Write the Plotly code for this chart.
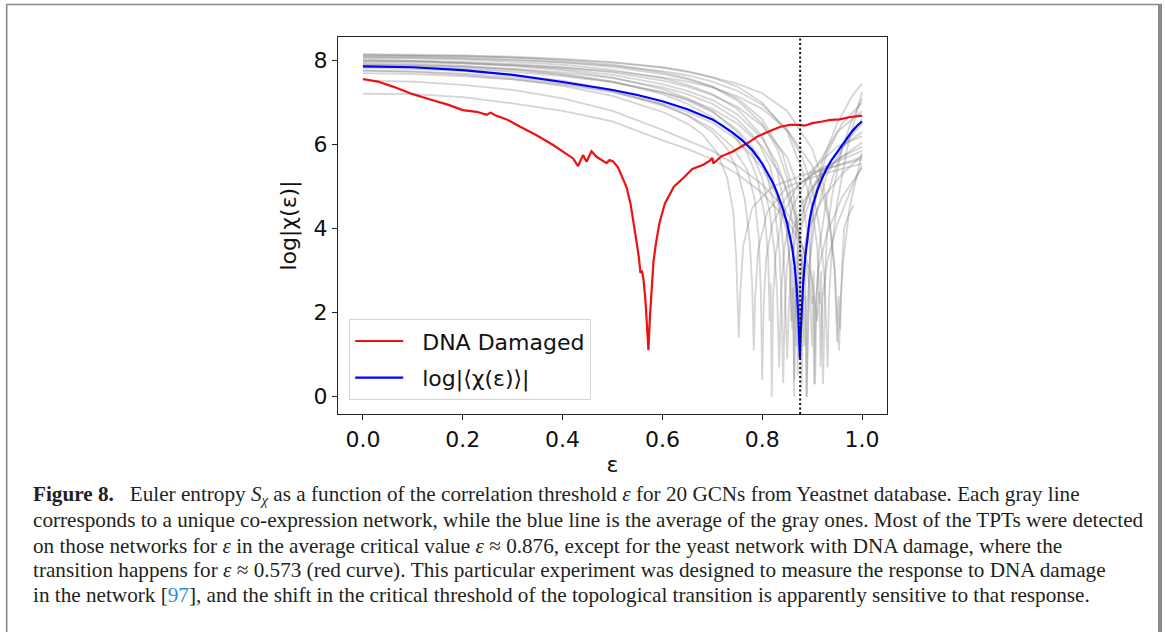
import plotly.graph_objects as go

# ---------------- data ----------------
EPS_CRIT = 0.876

red_eps = [0.0, 0.03, 0.06, 0.1, 0.133, 0.17, 0.2, 0.215, 0.228, 0.248, 0.256, 0.265, 0.288,
           0.314, 0.347, 0.381, 0.391, 0.421, 0.431, 0.436, 0.441, 0.448, 0.458, 0.468, 0.478,
           0.488, 0.494, 0.501, 0.511, 0.518, 0.528, 0.536, 0.542, 0.548, 0.553, 0.556, 0.559,
           0.562, 0.566, 0.569, 0.572, 0.575, 0.578, 0.582, 0.587, 0.594, 0.605, 0.623, 0.645,
           0.66, 0.682, 0.695, 0.70, 0.702, 0.718, 0.74, 0.77, 0.79, 0.813, 0.835, 0.855, 0.872,
           0.885, 0.9, 0.92, 0.937, 0.955, 0.974, 1.0]
red_log = [7.56, 7.5, 7.38, 7.2, 7.08, 6.95, 6.82, 6.8, 6.78, 6.71, 6.76, 6.7, 6.6,
           6.43, 6.23, 5.99, 5.91, 5.67, 5.49, 5.62, 5.75, 5.59, 5.84, 5.71, 5.63,
           5.56, 5.63, 5.6, 5.46, 5.27, 4.99, 4.6, 4.2, 3.7, 3.3, 2.95, 3.0,
           2.8, 2.3, 1.7, 1.11, 1.9, 2.6, 3.2, 3.65, 4.13, 4.6, 5.0, 5.24,
           5.42, 5.52, 5.62, 5.68, 5.55, 5.72, 5.83, 6.03, 6.19, 6.31, 6.42, 6.47, 6.47,
           6.45, 6.51, 6.55, 6.59, 6.6, 6.65, 6.69]

blue_eps = [0.0, 0.1, 0.2, 0.3, 0.4, 0.5, 0.55, 0.6, 0.65, 0.7, 0.72, 0.74, 0.76, 0.78, 0.8,
            0.81, 0.82, 0.83, 0.84, 0.85, 0.855, 0.86, 0.865, 0.869, 0.872, 0.874, 0.8755,
            0.877, 0.879, 0.882, 0.886, 0.89, 0.895, 0.9, 0.91, 0.92, 0.93, 0.94, 0.95, 0.96,
            0.97, 0.98, 0.99, 1.0]
blue_log = [7.86, 7.84, 7.77, 7.66, 7.49, 7.30, 7.18, 7.03, 6.84, 6.60, 6.45, 6.29, 6.10, 5.87, 5.55,
            5.35, 5.12, 4.85, 4.52, 4.12, 3.85, 3.55, 3.1, 2.6, 2.0, 1.4, 0.92,
            1.5, 2.1, 2.7, 3.3, 3.78, 4.2, 4.5, 4.9, 5.2, 5.45, 5.65, 5.82, 6.0,
            6.15, 6.32, 6.45, 6.55]

# twenty gray networks: (epsilon, log|chi|) pairs
gray_01 = [(0, 8.15), (0.1, 8.14), (0.2, 8.12), (0.3, 8.09), (0.4, 8.04), (0.5, 7.96), (0.6, 7.84), (0.65, 7.75), (0.7, 7.6), (0.75, 7.38), (0.8, 7.0), (0.85, 6.3), (0.88, 5.4), (0.9, 4.5), (0.91, 3.6), (0.915, 2.2), (0.918, 3.0), (0.922, 0.3), (0.926, 2.9), (0.93, 3.9), (0.94, 4.8), (0.96, 5.9), (0.98, 6.6), (1.0, 7.1)]
gray_02 = [(0, 8.12), (0.1, 8.11), (0.2, 8.1), (0.3, 8.07), (0.4, 8.02), (0.5, 7.95), (0.6, 7.83), (0.65, 7.73), (0.7, 7.6), (0.75, 7.45), (0.8, 7.22), (0.85, 6.8), (0.9, 5.9), (0.92, 5.2), (0.935, 4.2), (0.945, 3.0), (0.95, 1.3), (0.953, 2.4), (0.956, 1.6), (0.96, 3.1), (0.964, 4.0), (0.972, 4.3), (0.983, 4.56)]
gray_03 = [(0, 8.10), (0.1, 8.09), (0.2, 8.06), (0.3, 8.02), (0.4, 7.95), (0.5, 7.85), (0.6, 7.68), (0.65, 7.55), (0.7, 7.38), (0.75, 7.1), (0.8, 6.6), (0.84, 5.8), (0.86, 5.0), (0.87, 4.2), (0.88, 3.0), (0.884, 1.2), (0.887, 2.4), (0.889, 0.0), (0.892, 2.5), (0.9, 4.2), (0.92, 5.6), (0.95, 6.5), (0.98, 7.15), (1.0, 7.45)]
gray_04 = [(0, 8.06), (0.1, 8.05), (0.2, 8.02), (0.3, 7.97), (0.4, 7.9), (0.5, 7.78), (0.6, 7.58), (0.65, 7.42), (0.7, 7.2), (0.75, 6.85), (0.8, 6.2), (0.83, 5.4), (0.845, 4.5), (0.855, 3.2), (0.858, 1.8), (0.861, 2.6), (0.864, 0.4), (0.867, 2.9), (0.875, 4.0), (0.9, 5.3), (0.95, 6.3), (1.0, 6.8)]
gray_05 = [(0, 8.02), (0.1, 8.0), (0.2, 7.97), (0.3, 7.92), (0.4, 7.84), (0.5, 7.72), (0.6, 7.52), (0.65, 7.38), (0.7, 7.18), (0.75, 6.9), (0.8, 6.45), (0.85, 5.7), (0.88, 4.7), (0.895, 3.6), (0.9, 2.2), (0.903, 3.0), (0.906, 0.3), (0.909, 2.4), (0.914, 3.5), (0.93, 4.8), (0.96, 5.9), (1.0, 6.6)]
gray_06 = [(0, 8.0), (0.1, 7.98), (0.2, 7.94), (0.3, 7.87), (0.4, 7.77), (0.5, 7.6), (0.6, 7.32), (0.65, 7.1), (0.7, 6.8), (0.75, 6.3), (0.78, 5.8), (0.8, 5.2), (0.815, 4.4), (0.825, 3.4), (0.83, 2.4), (0.834, 0.7), (0.838, 2.5), (0.845, 3.6), (0.86, 4.5), (0.9, 5.4), (0.95, 5.95), (1.0, 6.2)]
gray_07 = [(0, 7.94), (0.1, 7.92), (0.2, 7.87), (0.3, 7.8), (0.4, 7.68), (0.5, 7.5), (0.6, 7.2), (0.65, 6.97), (0.7, 6.65), (0.74, 6.25), (0.77, 5.8), (0.79, 5.2), (0.805, 4.3), (0.812, 3.3), (0.815, 1.8), (0.817, 2.7), (0.819, 0.0), (0.822, 2.4), (0.827, 3.4), (0.84, 4.3), (0.87, 5.0), (0.92, 5.45), (1.0, 5.85)]
gray_08 = [(0, 7.9), (0.1, 7.88), (0.2, 7.84), (0.3, 7.77), (0.4, 7.66), (0.5, 7.5), (0.6, 7.24), (0.65, 7.05), (0.7, 6.78), (0.75, 6.35), (0.79, 5.8), (0.81, 5.25), (0.825, 4.5), (0.835, 3.4), (0.839, 2.2), (0.842, 0.32), (0.845, 2.0), (0.849, 3.0), (0.86, 3.9), (0.88, 4.6), (0.93, 5.45), (1.0, 6.05)]
gray_09 = [(0, 7.82), (0.1, 7.8), (0.2, 7.75), (0.3, 7.66), (0.4, 7.52), (0.5, 7.3), (0.6, 6.95), (0.65, 6.7), (0.7, 6.3), (0.73, 5.9), (0.75, 5.4), (0.765, 4.7), (0.775, 3.7), (0.78, 2.6), (0.783, 1.1), (0.786, 2.4), (0.792, 3.5), (0.81, 4.4), (0.85, 5.0), (0.92, 5.3), (1.0, 5.55)]
gray_10 = [(0, 7.76), (0.1, 7.73), (0.2, 7.66), (0.3, 7.56), (0.4, 7.4), (0.5, 7.16), (0.6, 6.78), (0.65, 6.5), (0.68, 6.25), (0.71, 5.8), (0.73, 5.2), (0.742, 4.4), (0.748, 3.3), (0.751, 2.2), (0.753, 1.4), (0.756, 2.5), (0.762, 3.6), (0.78, 4.5), (0.82, 5.0), (0.9, 5.35), (1.0, 5.65)]
gray_11 = [(0, 7.7), (0.1, 7.68), (0.2, 7.63), (0.3, 7.55), (0.4, 7.43), (0.5, 7.25), (0.6, 6.97), (0.65, 6.78), (0.7, 6.52), (0.75, 6.12), (0.8, 5.45), (0.83, 4.75), (0.85, 3.9), (0.857, 3.0), (0.86, 1.6), (0.862, 3.1), (0.864, 0.0), (0.866, 2.8), (0.869, 1.2), (0.872, 3.2), (0.88, 4.1), (0.91, 5.2), (0.96, 5.95), (1.0, 6.3)]
gray_12 = [(0, 7.52), (0.1, 7.5), (0.2, 7.42), (0.3, 7.3), (0.4, 7.1), (0.5, 6.8), (0.6, 6.35), (0.65, 6.1), (0.7, 5.85), (0.75, 5.5), (0.8, 5.05), (0.84, 4.55), (0.87, 4.0), (0.885, 3.4), (0.895, 2.6), (0.9, 1.2), (0.902, 2.4), (0.904, 0.3), (0.907, 2.1), (0.912, 3.0), (0.93, 3.9), (0.96, 4.75), (1.0, 5.45)]
gray_13 = [(0, 7.21), (0.1, 7.2), (0.2, 7.13), (0.3, 6.98), (0.4, 6.8), (0.5, 6.55), (0.6, 6.1), (0.65, 5.9), (0.7, 5.65), (0.75, 5.3), (0.8, 4.85), (0.85, 4.2), (0.88, 3.6), (0.9, 2.8), (0.91, 1.8), (0.914, 2.5), (0.917, 0.7), (0.92, 2.3), (0.93, 3.2), (0.95, 4.1), (0.98, 5.0), (1.0, 5.5)]
gray_14 = [(0, 8.08), (0.1, 8.07), (0.2, 8.05), (0.3, 8.01), (0.4, 7.96), (0.5, 7.88), (0.6, 7.75), (0.65, 7.65), (0.7, 7.5), (0.75, 7.28), (0.8, 6.95), (0.85, 6.35), (0.88, 5.7), (0.9, 5.0), (0.915, 4.0), (0.925, 2.8), (0.928, 1.5), (0.931, 0.7), (0.934, 2.4), (0.94, 3.6), (0.95, 4.6), (0.97, 5.9), (1.0, 7.25)]
gray_15 = [(0, 7.97), (0.1, 7.96), (0.2, 7.93), (0.3, 7.89), (0.4, 7.83), (0.5, 7.74), (0.6, 7.6), (0.65, 7.5), (0.7, 7.36), (0.75, 7.15), (0.8, 6.85), (0.85, 6.35), (0.9, 5.5), (0.92, 4.9), (0.935, 4.1), (0.945, 3.1), (0.95, 2.0), (0.954, 1.1), (0.957, 2.3), (0.962, 3.2), (0.975, 4.5), (1.0, 5.8)]
gray_16 = [(0, 7.86), (0.1, 7.85), (0.2, 7.8), (0.3, 7.73), (0.4, 7.63), (0.5, 7.48), (0.6, 7.25), (0.65, 7.08), (0.7, 6.85), (0.75, 6.5), (0.8, 5.95), (0.84, 5.2), (0.865, 4.4), (0.878, 3.5), (0.884, 2.3), (0.886, 3.0), (0.889, 0.0), (0.892, 1.8), (0.895, 3.2), (0.905, 4.2), (0.93, 5.3), (0.97, 6.1), (1.0, 6.5)]
gray_17 = [(0, 8.14), (0.1, 8.13), (0.2, 8.11), (0.3, 8.07), (0.4, 8.0), (0.5, 7.9), (0.6, 7.72), (0.65, 7.58), (0.7, 7.38), (0.75, 7.05), (0.8, 6.5), (0.83, 5.9), (0.85, 5.2), (0.865, 4.3), (0.872, 3.3), (0.875, 1.9), (0.877, 2.8), (0.879, 0.2), (0.882, 2.6), (0.888, 3.7), (0.9, 4.6), (0.93, 5.8), (0.96, 6.5), (1.0, 7.0)]
gray_18 = [(0, 7.9), (0.1, 7.89), (0.2, 7.86), (0.3, 7.8), (0.4, 7.72), (0.5, 7.58), (0.6, 7.36), (0.65, 7.2), (0.7, 6.97), (0.75, 6.6), (0.79, 6.1), (0.815, 5.5), (0.83, 4.8), (0.84, 3.9), (0.845, 2.8), (0.848, 1.6), (0.85, 0.9), (0.853, 2.0), (0.858, 3.1), (0.87, 4.1), (0.9, 5.0), (0.95, 5.65), (1.0, 5.95)]
gray_19 = [(0, 8.0), (0.1, 7.99), (0.2, 7.95), (0.3, 7.89), (0.4, 7.8), (0.5, 7.66), (0.6, 7.44), (0.65, 7.28), (0.7, 7.06), (0.75, 6.72), (0.8, 6.15), (0.83, 5.55), (0.85, 4.85), (0.86, 4.2), (0.866, 3.2), (0.868, 1.9), (0.87, 2.7), (0.871, 0.5), (0.874, 2.2), (0.878, 3.1), (0.89, 3.9), (0.92, 4.7), (0.96, 5.3), (1.0, 5.75)]
gray_20 = [(0, 7.76), (0.1, 7.74), (0.2, 7.69), (0.3, 7.6), (0.4, 7.46), (0.5, 7.26), (0.6, 6.93), (0.65, 6.7), (0.7, 6.38), (0.74, 5.95), (0.77, 5.4), (0.785, 4.7), (0.793, 3.8), (0.797, 2.6), (0.8, 0.4), (0.803, 2.2), (0.808, 3.3), (0.82, 4.1), (0.85, 4.8), (0.9, 5.3), (1.0, 5.7)]

GRAY_LINES = [gray_01, gray_02, gray_03, gray_04, gray_05, gray_06, gray_07, gray_08, gray_09, gray_10,
              gray_11, gray_12, gray_13, gray_14, gray_15, gray_16, gray_17, gray_18, gray_19, gray_20]

x_ticks = [0.0, 0.2, 0.4, 0.6, 0.8, 1.0]
x_tick_labels = ["0.0", "0.2", "0.4", "0.6", "0.8", "1.0"]
y_ticks = [0, 2, 4, 6, 8]
y_tick_labels = ["0", "2", "4", "6", "8"]

legend_names = ["DNA Damaged", "log|⟨χ(ε)⟩|"]

caption_lines = [
    "<b>Figure 8.</b>\u2002 Euler entropy <i>S</i><sub><i>χ</i></sub> as a function of the correlation threshold <i>ε</i> for 20 GCNs from Yeastnet database. Each gray line",
    "corresponds to a unique co-expression network, while the blue line is the average of the gray ones. Most of the TPTs were detected",
    "on those networks for <i>ε</i> in the average critical value <i>ε</i> ≈ 0.876, except for the yeast network with DNA damage, where the",
    "transition happens for <i>ε</i> ≈ 0.573 (red curve). This particular experiment was designed to measure the response to DNA damage",
    "in the network [<span style='color:#1f8fd8'>97</span>], and the shift in the critical threshold of the topological transition is apparently sensitive to that response.",
]

# ---------------- layout geometry ----------------
W, H = 1165, 632
L, R, T, B = 338, 278, 37, 218
PW, PH = W - L - R, H - T - B


def px(X):
    return (X - L) / PW


def py(Y):
    return (H - B - Y) / PH


FONT = "DejaVu Sans"

fig = go.Figure()

for g in GRAY_LINES:
    fig.add_trace(go.Scatter(
        x=[p[0] for p in g], y=[p[1] for p in g], mode="lines",
        line=dict(color="rgba(128,128,128,0.33)", width=1.8),
        showlegend=False, hoverinfo="skip"))

fig.add_trace(go.Scatter(x=red_eps, y=red_log, mode="lines", name="\u00a0\u00a0" + legend_names[0],
                         line=dict(color="#ee1111", width=2.2), legendgroup="a"))
fig.add_trace(go.Scatter(x=blue_eps, y=blue_log, mode="lines", name="\u00a0\u00a0" + legend_names[1],
                         line=dict(color="#0000ff", width=2.2), legendgroup="b"))

fig.add_shape(type="line", xref="x", yref="paper", x0=EPS_CRIT, x1=EPS_CRIT, y0=0, y1=1,
              line=dict(color="#111111", width=2, dash="2px,2.5px"), layer="above")

# outer figure border
border = "#8a8a8a"
fig.add_shape(type="line", xref="paper", yref="paper", x0=px(6), x1=px(1162), y0=py(4.5), y1=py(4.5),
              line=dict(color=border, width=1.6))
fig.add_shape(type="line", xref="paper", yref="paper", x0=px(6.7), x1=px(6.7), y0=py(4), y1=py(645),
              line=dict(color=border, width=1.6))
fig.add_shape(type="line", xref="paper", yref="paper", x0=px(1160), x1=px(1160), y0=py(4), y1=py(645),
              line=dict(color=border, width=4))

caption_y = [495, 520, 546, 570, 595]
for txt, yy in zip(caption_lines, caption_y):
    fig.add_annotation(text=txt, xref="paper", yref="paper", x=px(31), y=py(yy),
                       xanchor="left", yanchor="middle", showarrow=False, align="left",
                       font=dict(family="Liberation Serif", size=21.2, color="#231f20"))

axis_common = dict(
    showgrid=False, zeroline=False, showline=True, mirror=True, linecolor="#222222", linewidth=1.3,
    ticks="outside", ticklen=5, tickwidth=1.3, tickcolor="#222222",
    tickfont=dict(family=FONT, size=22, color="#111111"),
)

fig.update_layout(
    width=W, height=H,
    margin=dict(l=L, r=R, t=T, b=B, pad=0),
    paper_bgcolor="white", plot_bgcolor="white",
    xaxis=dict(range=[-0.05, 1.05], tickvals=x_ticks, ticktext=x_tick_labels,
               title=dict(text="ε", font=dict(family=FONT, size=22, color="#111111"), standoff=6),
               **axis_common),
    yaxis=dict(range=[-0.41, 8.56], tickvals=y_ticks, ticktext=y_tick_labels,
               title=dict(text="log|χ(ε)|", font=dict(family=FONT, size=22, color="#111111"), standoff=10),
               **axis_common),
    legend=dict(x=px(349), y=py(319), xanchor="left", yanchor="top",
                bgcolor="rgba(255,255,255,0.85)", bordercolor="#d6d6d6", borderwidth=1.2,
                font=dict(family=FONT, size=22, color="#111111"), itemwidth=48, tracegroupgap=5),
    showlegend=True,
)

fig.write_html("out.html")
